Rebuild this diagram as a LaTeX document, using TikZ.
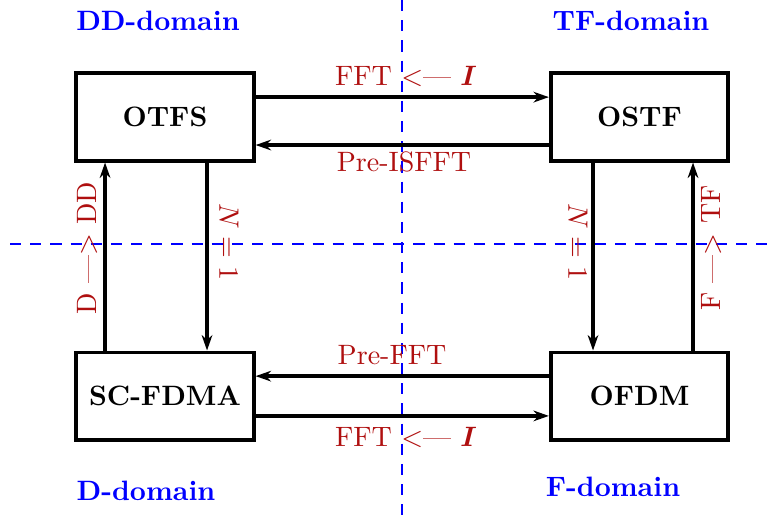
\documentclass[tikz,border=0pt]{standalone}
\usepackage{amsmath}
\usetikzlibrary{arrows.meta}
\definecolor{lblred}{RGB}{175,15,15}
\definecolor{dblue}{RGB}{0,0,255}
\tikzset{
  box/.style={draw, line width=1.3pt, minimum width=63.4pt, minimum height=31.2pt, font=\bfseries, inner sep=0pt},
  arr/.style={line width=1.25pt, -{Stealth[length=5.5pt,width=3.8pt]}},
  lbl/.style={text=lblred, inner sep=1pt},
  dom/.style={text=dblue, font=\bfseries, inner sep=0pt},
  axis/.style={dblue, line width=0.75pt, dash pattern=on 4pt off 3.2pt}
}
\begin{document}
\begin{tikzpicture}[x=0.357pt,y=-0.357pt]
\useasboundingbox (0,0) rectangle (771,515);
% dashed axes
\coordinate (vt) at (402,0);
\coordinate (vb) at (402,515);
\coordinate (hl) at (10,244);
\coordinate (hr) at (771,244);
\draw[axis] (vt) -- (vb);
\draw[axis] (hl) -- (hr);
% boxes
\node[box] (otfs) at (165,117) {OTFS};
\node[box] (ostf) at (639.5,117) {OSTF};
\node[box] (scf) at (165,396) {SC-FDMA};
\node[box] (ofdm) at (639.5,396) {OFDM};
% horizontal arrows
\draw[arr] ([yshift=7.1pt]otfs.east) -- ([yshift=7.1pt]ostf.west);
\draw[arr] ([yshift=-10pt]ostf.west) -- ([yshift=-10pt]otfs.east);
\draw[arr] ([yshift=7.1pt]ofdm.west) -- ([yshift=7.1pt]scf.east);
\draw[arr] ([yshift=-7.1pt]scf.east) -- ([yshift=-7.1pt]ofdm.west);
% vertical arrows
\draw[arr] ([xshift=-21.4pt]scf.north) -- ([xshift=-21.4pt]otfs.south);
\draw[arr] ([xshift=15pt]otfs.south) -- ([xshift=15pt]scf.north);
\draw[arr] ([xshift=-16.6pt]ostf.south) -- ([xshift=-16.6pt]ofdm.north);
\draw[arr] ([xshift=19.1pt]ofdm.north) -- ([xshift=19.1pt]ostf.south);
% labels
\node[lbl] (l1) at (406,76) {FFT <--- $\boldsymbol{I}$};
\node[lbl] (l2) at (404,162) {Pre-ISFFT};
\node[lbl] (l3) at (392,355) {Pre-FFT};
\node[lbl] (l4) at (406,437) {FFT <--- $\boldsymbol{I}$};
\node[lbl, rotate=90] (l5) at (87,248) {D ---> DD};
\node[lbl, rotate=-90] (l6) at (229,242) {$N=1$};
\node[lbl, rotate=-90] (l7) at (578,242) {$N=1$};
\node[lbl, rotate=90] (l8) at (712,248) {F ---> TF};
% domains
\node[dom] (d1) at (158,21) {DD-domain};
\node[dom] (d2) at (631,21) {TF-domain};
\node[dom] (d3) at (146,491) {D-domain};
\node[dom] (d4) at (613,487) {F-domain};
\end{tikzpicture}
\end{document}
